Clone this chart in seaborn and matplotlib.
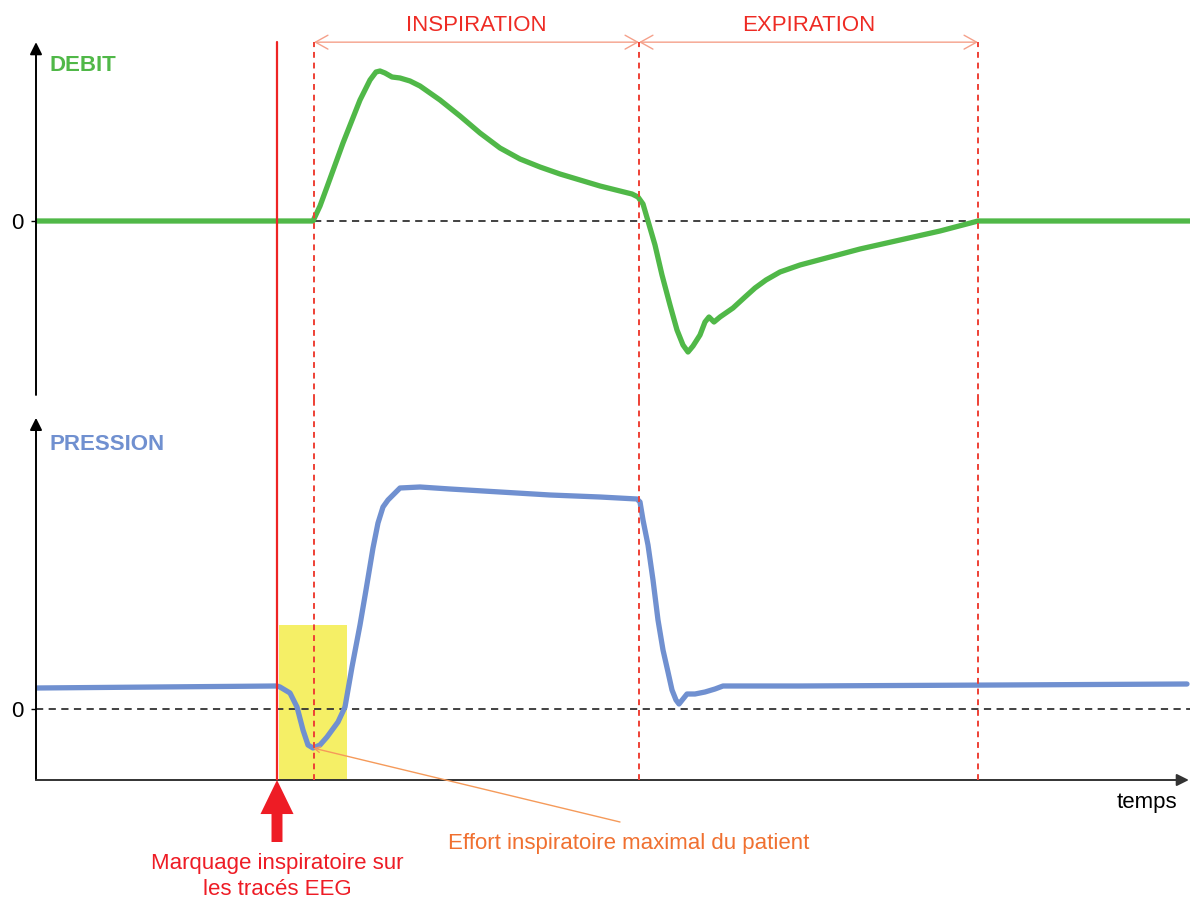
import matplotlib
matplotlib.use("Agg")
import matplotlib.pyplot as plt
import seaborn as sns

# temps (unités arbitraires) et signaux
t_debit = [0.0, 2.77, 2.84, 2.91, 3.07, 3.24, 3.34, 3.40, 3.44, 3.49, 3.56, 3.64, 3.74, 3.84,
           4.04, 4.24, 4.44, 4.64, 4.84, 5.04, 5.24, 5.44, 5.64, 5.84, 5.96, 6.02,
           6.07, 6.12, 6.19, 6.26, 6.34, 6.41, 6.47, 6.52, 6.57, 6.64, 6.69, 6.73,
           6.78, 6.84, 6.97, 7.09, 7.19, 7.30, 7.44, 7.64, 7.94, 8.24, 8.64, 9.04,
           9.42, 11.54]
debit = [0.0, 0.0, 6.0, 13.6, 31.2, 48.4, 56.4, 59.6, 60.0, 59.2, 57.6, 57.2, 56.0, 54.0,
         48.4, 42.0, 35.2, 29.2, 24.8, 21.6, 18.8, 16.4, 14.0, 12.0, 10.8, 9.6,
         6.8, 0.0, -9.6, -21.6, -33.6, -43.6, -49.6, -52.4, -50.0, -45.6, -40.4, -38.4,
         -40.4, -38.4, -34.8, -30.4, -26.8, -23.6, -20.4, -17.6, -14.4, -11.2, -7.6, -4.0,
         0.0, 0.0]

t_pression = [0.0, 2.41, 2.44, 2.54, 2.61, 2.67, 2.72, 2.77, 2.84, 2.91, 3.02,
              3.09, 3.16, 3.24, 3.30, 3.37, 3.42, 3.47, 3.52, 3.64, 3.84, 4.14,
              4.64, 5.14, 5.64, 6.01, 6.04, 6.07, 6.12, 6.17, 6.22, 6.27, 6.32,
              6.36, 6.40, 6.43, 6.47, 6.51, 6.59, 6.69, 6.79, 6.87, 7.64, 8.64,
              9.64, 11.51]
pression = [2.1, 2.3, 2.2, 1.6, 0.2, -2.1, -3.6, -3.9, -3.6, -2.8, -1.3,
            0.2, 4.2, 8.4, 11.9, 16.1, 18.6, 20.2, 20.9, 22.1, 22.2, 22.0,
            21.7, 21.4, 21.2, 21.0, 20.7, 18.9, 16.4, 12.9, 8.9, 5.9, 3.7,
            1.9, 0.9, 0.5, 1.0, 1.5, 1.5, 1.7, 2.0, 2.3, 2.3, 2.35,
            2.4, 2.5]

t_marquage = 2.41
phases = [2.78, 6.03, 9.42]          # début insp., fin insp., fin exp.
phase_labels = ["INSPIRATION", "EXPIRATION"]
zone_effort = (2.43, 3.11, 8.4)      # début, fin, hauteur de la zone jaune
effort_max = (2.77, -3.9)

sns.set_theme(style="white")
plt.rcParams["font.family"] = ["Liberation Sans", "DejaVu Sans"]
plt.rcParams["lines.solid_joinstyle"] = "round"
plt.rcParams["lines.solid_capstyle"] = "round"

green = "#50b848"
blue = "#7090d0"
red = "#ee2424"
red_dash = "#ee4035"
orange = "#f07030"

fig = plt.figure(figsize=(11.9, 8.98), dpi=100)
ax1 = fig.add_axes([36 / 1190, (898 - 400) / 898, 1154 / 1190, 360 / 898])
ax2 = fig.add_axes([36 / 1190, (898 - 780) / 898, 1154 / 1190, 380 / 898])

y_lims = {ax1: (-71.6, 72.4), ax2: (-7.1, 30.9)}
top_frac = {ax1: 0.994, ax2: 1.0}

for ax in (ax1, ax2):
    ax.set_xlim(0, 11.54)
    ax.set_ylim(*y_lims[ax])
    for s in ax.spines.values():
        s.set_visible(False)
    ax.set_xticks([])
    ax.set_yticks([0])
    ax.set_yticklabels(["0"])
    ax.tick_params(axis="y", left=True, length=3.6, width=1, pad=5.5,
                   labelsize=16, color="black", labelcolor="black")
    ax.set_facecolor("none")
    ax.axhline(0, color="#333333", ls=(0, (4, 3)), lw=1.3, zorder=1)
    ax.axvline(t_marquage, 0, top_frac[ax], color=red, lw=1.6, zorder=6)
    for t in phases:
        ax.axvline(t, 0, top_frac[ax], color=red_dash, lw=1.4,
                   ls=(0, (3, 2.5)), zorder=6)

# zone jaune
ax2.fill_between([zone_effort[0], zone_effort[1]], -7.1, zone_effort[2],
                 color="#f5ef66", lw=0, zorder=0)

sns.lineplot(x=t_debit, y=debit, ax=ax1, color=green, lw=3.8, sort=False,
             estimator=None, zorder=3)
sns.lineplot(x=t_pression, y=pression, ax=ax2, color=blue, lw=3.8, sort=False,
             estimator=None, zorder=3)
ax1.set_xlabel("")
ax2.set_xlabel("")

# axes avec fleches
arrow_axis = dict(arrowstyle="-|>,head_length=1,head_width=0.5", mutation_scale=7.2,
                  lw=1.4, color="black", shrinkA=0, shrinkB=0)
ax1.annotate("", xy=(0, 0.994), xytext=(0, 0.014), xycoords="axes fraction",
             arrowprops=arrow_axis, annotation_clip=False)
ax2.annotate("", xy=(0, 0.953), xytext=(0, 0), xycoords="axes fraction",
             arrowprops=arrow_axis, annotation_clip=False)
ax2.annotate("", xy=(0.999, 0), xytext=(0, 0), xycoords="axes fraction",
             arrowprops=dict(arrow_axis, color="#333333"), annotation_clip=False)

ax1.text(0.0113, 0.915, "DEBIT", transform=ax1.transAxes,
         color=green, fontsize=16, fontweight="bold", ha="left", va="baseline")
ax2.text(0.0113, 0.868, "PRESSION", transform=ax2.transAxes,
         color=blue, fontsize=16, fontweight="bold", ha="left", va="baseline")

# phases
bracket = dict(arrowstyle="<->,head_length=0.9,head_width=0.5", mutation_scale=10,
               lw=1, color="#f5a08a", shrinkA=0, shrinkB=0)
for (a, b), label in zip(zip(phases[:-1], phases[1:]), phase_labels):
    ax1.annotate("", xy=(a, 0.994), xytext=(b, 0.994), xycoords=("data", "axes fraction"),
                 arrowprops=bracket, annotation_clip=False)
    ax1.text((a + b) / 2, 1.026, label, transform=ax1.get_xaxis_transform(),
             color="#ee2b24", fontsize=16, ha="center", va="baseline")

# marquage inspiratoire
ax2.annotate("", xy=(t_marquage, 0), xycoords=("data", "axes fraction"),
             xytext=(0, -62), textcoords="offset pixels",
             arrowprops=dict(arrowstyle="simple,head_length=24.5,head_width=23.8,tail_width=7.9",
                             mutation_scale=1, color="#ee1c25", lw=0, shrinkA=0, shrinkB=0),
             annotation_clip=False)
ax2.annotate("Marquage inspiratoire sur\nles tracés EEG", xy=(t_marquage, 0),
             xycoords=("data", "axes fraction"), xytext=(0, -115), textcoords="offset pixels",
             ha="center", va="baseline", color="#ee1c25", fontsize=16,
             linespacing=1.3, annotation_clip=False)

# effort inspiratoire
ax2.annotate("", xy=effort_max, xytext=(5.84, -11.3),
             arrowprops=dict(arrowstyle="->,head_length=0.4,head_width=0.2", mutation_scale=10,
                             lw=1, color="#f59a5a", shrinkA=0, shrinkB=0),
             annotation_clip=False)
ax2.annotate("Effort inspiratoire maximal du patient", xy=(5.93, 0),
             xycoords=("data", "axes fraction"), xytext=(0, -69), textcoords="offset pixels",
             ha="center", va="baseline", color=orange, fontsize=16, annotation_clip=False)

ax2.annotate("temps", xy=(11.11, 0), xycoords=("data", "axes fraction"),
             xytext=(0, -28), textcoords="offset pixels", ha="center", va="baseline",
             color="black", fontsize=16, annotation_clip=False)

fig.savefig("out.png", dpi=100)
